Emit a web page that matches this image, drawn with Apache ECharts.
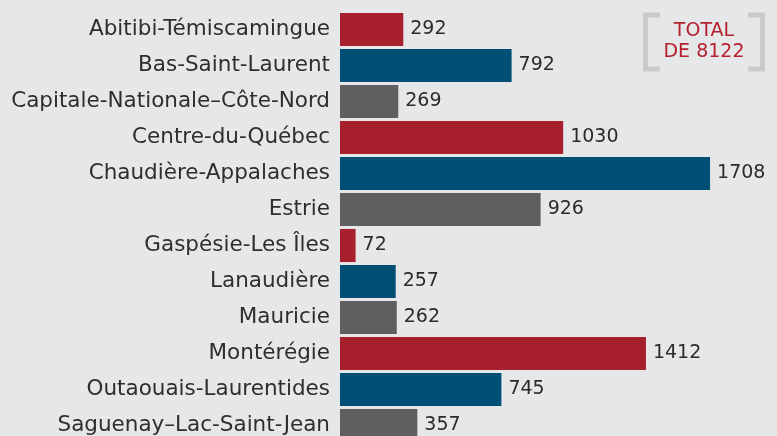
<!DOCTYPE html>
<html><head><meta charset="utf-8">
<script src="https://cdn.jsdelivr.net/npm/echarts@6/dist/echarts.min.js"></script>
<style>html,body{margin:0;padding:0;background:#e6e7e9;}#c{width:777px;height:436px;}</style>
</head><body><div id="c"></div>
<script>
const categories = ["Abitibi-Témiscamingue","Bas-Saint-Laurent","Capitale-Nationale–Côte-Nord","Centre-du-Québec","Chaudière-Appalaches","Estrie","Gaspésie-Les Îles","Lanaudière","Mauricie","Montérégie","Outaouais-Laurentides","Saguenay–Lac-Saint-Jean"];
const values = [292,792,269,1030,1708,926,72,257,262,1412,745,357];
const palette = ["#a81f2e","#004f74","#5f5f61"];
const total = values.reduce((a,b)=>a+b,0);
const FONT = "DejaVu Sans";
const chart = echarts.init(document.getElementById('c'));
chart.setOption({
  backgroundColor:'#e6e7e9',
  animation:false,
  grid:{left:340,width:390,top:11.5,height:432,containLabel:false,outerBoundsMode:'none'},
  xAxis:{type:'value',min:0,max:1800,show:false},
  yAxis:{type:'category',inverse:true,data:categories,
    axisLine:{show:false},axisTick:{show:false},splitLine:{show:false},
    axisLabel:{margin:10,color:'#2e2e30',fontFamily:FONT,fontSize:21.5}},
  series:[{type:'bar',data:values.map((v,i)=>({value:v,itemStyle:{color:palette[i%3]}})),
    barCategoryGap:'8%',
    label:{show:true,position:'right',distance:7,color:'#2b2b2b',fontFamily:FONT,fontSize:19}}],
  graphic:[
    {type:'polyline',shape:{points:[[660,15],[645.5,15],[645.5,69],[660,69]]},style:{stroke:'#c9cacc',lineWidth:5,fill:null}},
    {type:'polyline',shape:{points:[[748,15],[762.5,15],[762.5,69],[748,69]]},style:{stroke:'#c9cacc',lineWidth:5,fill:null}},
    {type:'text',x:704,y:31,style:{text:'TOTAL',fill:'#b3212f',font:'19px '+FONT,textAlign:'center',textVerticalAlign:'middle'}},
    {type:'text',x:704,y:52,style:{text:'DE '+total,fill:'#b3212f',font:'19px '+FONT,textAlign:'center',textVerticalAlign:'middle'}}
  ]
});
</script></body></html>
